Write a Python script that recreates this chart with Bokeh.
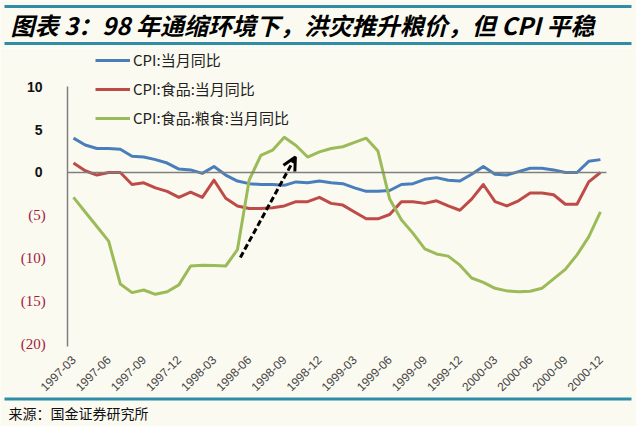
from bokeh.plotting import figure
from bokeh.models import (Legend, LegendItem, Arrow, OpenHead, FixedTicker,
                          LinearAxis, ColumnDataSource)
from bokeh.layouts import column
from bokeh.core.properties import value
from bokeh.embed import file_html
from bokeh.resources import INLINE
import math

# ---------------- data ----------------
months = []
for yr in range(1997, 2001):
    for m in range(1, 13):
        if yr == 1997 and m < 3:
            continue
        months.append(f"{yr}-{m:02d}")

cpi = [4.0, 3.2, 2.8, 2.8, 2.7, 1.9, 1.8, 1.5, 1.1, 0.4,
       0.3, -0.1, 0.7, -0.3, -1.0, -1.3, -1.4, -1.4, -1.5, -1.1, -1.2, -1.0,
       -1.2, -1.3, -1.8, -2.2, -2.2, -2.1, -1.4, -1.3, -0.8, -0.6, -0.9, -1.0,
       -0.2, 0.7, -0.2, -0.3, 0.1, 0.5, 0.5, 0.3, 0.0, 0.0, 1.3, 1.5]

food = [1.1, 0.2, -0.3, 0.0, 0.0, -1.4, -1.2, -1.8, -2.2, -2.9,
        -2.3, -2.9, -0.9, -3.0, -3.9, -4.2, -4.2, -4.1, -3.9, -3.4, -3.4, -2.9,
        -3.6, -3.8, -4.6, -5.4, -5.4, -4.9, -3.4, -3.4, -3.6, -3.3, -3.9, -4.4,
        -3.1, -1.4, -3.4, -3.9, -3.3, -2.4, -2.4, -2.6, -3.7, -3.7, -1.1, 0.0]

grain = [-2.9, -4.6, -6.3, -8.0, -13.0, -14.0, -13.7, -14.2, -13.9, -13.1,
         -10.9, -10.8, -10.85, -10.9, -9.0, -0.9, 2.0, 2.6, 4.1, 3.15, 1.8, 2.4,
         2.8, 3.0, 3.5, 4.0, 2.5, -3.1, -5.5, -7.1, -8.9, -9.5, -9.75, -10.8,
         -12.3, -12.8, -13.5, -13.8, -13.9, -13.85, -13.5, -12.4, -11.3, -9.6, -7.5, -4.6]

series_names = ["CPI:当月同比", "CPI:食品:当月同比", "CPI:食品:粮食:当月同比"]
series_colors = ["#4A7EBB", "#BE4B48", "#9BBB59"]

pos_ticks = [0, 5, 10]
pos_tick_labels = ["0", "5", "10"]
neg_ticks = [-5, -10, -15, -20]
neg_tick_labels = ["(5)", "(10)", "(15)", "(20)"]

x_tick_step = 3

# arrow annotation (start -> end in data units)
arrow_start = (14.25, -9.9)
arrow_end = (18.95, 1.8)

title_text = "图表 3：98 年通缩环境下，洪灾推升粮价，但 CPI 平稳"
source_text = "来源：国金证券研究所"

# ---------------- styling ----------------
BG = "#FBFAF1"
TEAL = "#2F8EA6"
W = 636
Y_LO, Y_HI = -26.11, 14.45
X_LO, X_HI = -6.234, 48.08
AX_X = -0.5          # where the vertical axis sits
AX_Y = -20.3         # bottom end of the vertical axis / position of the date labels
ZERO_END = 45.51

common = dict(output_backend="svg", toolbar_location=None,
              background_fill_color=BG, border_fill_color=BG,
              outline_line_color=None)

# ---------- header ----------
H_TOP = 48
top = figure(width=W, height=H_TOP, x_range=(0, W), y_range=(0, H_TOP),
             x_axis_type=None, y_axis_type=None, min_border=0, **common)
top.grid.visible = False
top.quad(left=[4, 4], right=[631, 631], bottom=[40.5, 3.5], top=[43.5, 6.5],
         fill_color=TEAL, line_color=None)
top.text(x=[10], y=[24], text=[title_text], text_font=value("Noto Sans CJK SC"),
         text_font_style="bold italic", text_font_size="24px",
         text_color="#000000", text_baseline="middle")

# ---------- main chart ----------
x = list(range(len(months)))
src = ColumnDataSource(dict(x=x, cpi=cpi, food=food, grain=grain))

p = figure(width=W, height=348, x_range=(X_LO, X_HI), y_range=(Y_LO, Y_HI),
           x_axis_type=None, y_axis_type=None, min_border=0, **common)
p.grid.visible = False

# zero line as an axis fixed at y = 0
zax = LinearAxis(ticker=FixedTicker(ticks=[]), fixed_location=0,
                 bounds=(AX_X, ZERO_END), axis_line_color="#7F7F7F", axis_line_width=1.5,
                 major_tick_line_color=None, minor_tick_line_color=None,
                 major_label_text_font_size="0px")
p.add_layout(zax, "below")

renderers = []
for col, c in zip(["cpi", "food", "grain"], series_colors):
    r = p.line("x", col, source=src, line_color=c, line_width=3, line_join="round")
    renderers.append(r)

# date axis
xa = LinearAxis(ticker=FixedTicker(ticks=x[::x_tick_step]), fixed_location=AX_Y,
                major_label_overrides={i: months[i] for i in x[::x_tick_step]})
xa.major_label_orientation = math.pi / 4
xa.axis_line_color = None
xa.major_tick_line_color = None
xa.minor_tick_line_color = None
xa.major_label_text_font = "Liberation Sans"
xa.major_label_text_font_size = "12px"
xa.major_label_text_color = "#444444"
xa.major_label_standoff = 5
p.add_layout(xa, "below")

# y axis: non-negative labels (black)
ya = LinearAxis(ticker=FixedTicker(ticks=pos_ticks), fixed_location=AX_X,
                bounds=(AX_Y, 10),
                major_label_overrides=dict(zip(pos_ticks, pos_tick_labels)))
ya.axis_line_color = "#7F7F7F"
ya.axis_line_width = 1.5
ya.major_tick_line_color = None
ya.minor_tick_line_color = None
ya.major_label_text_font = "Liberation Sans"
ya.major_label_text_font_style = "bold"
ya.major_label_text_font_size = "14px"
ya.major_label_text_color = "#111111"
ya.major_label_standoff = 19
p.add_layout(ya, "left")

# y axis: negative labels (red)
ya2 = LinearAxis(ticker=FixedTicker(ticks=neg_ticks), fixed_location=AX_X,
                 major_label_overrides=dict(zip(neg_ticks, neg_tick_labels)))
ya2.axis_line_color = None
ya2.major_tick_line_color = None
ya2.minor_tick_line_color = None
ya2.major_label_text_font = "Liberation Serif"
ya2.major_label_text_font_size = "15px"
ya2.major_label_text_color = "#A3203C"
ya2.major_label_standoff = 16
p.add_layout(ya2, "left")

# arrow
p.add_layout(Arrow(x_start=arrow_start[0], y_start=arrow_start[1],
                   x_end=arrow_end[0], y_end=arrow_end[1],
                   line_color="black", line_width=3, line_dash="6 3",
                   end=OpenHead(size=13, line_width=3, line_color="black")))

# legend
legend = Legend(items=[LegendItem(label=n, renderers=[r]) for n, r in zip(series_names, renderers)],
                location=(95, 268), orientation="vertical",
                padding=0, margin=0, spacing=8, label_height=20, glyph_height=20,
                glyph_width=35, label_standoff=3,
                background_fill_alpha=0, border_line_color=None,
                label_text_font="Noto Sans CJK SC", label_text_font_size="15px",
                label_text_color="#222222")
p.add_layout(legend, "center")

# ---------- footer ----------
H_BOT = 30
bot = figure(width=W, height=H_BOT, x_range=(0, W), y_range=(0, H_BOT),
             x_axis_type=None, y_axis_type=None, min_border=0, **common)
bot.grid.visible = False
bot.quad(left=[4], right=[631], bottom=[26], top=[29], fill_color=TEAL, line_color=None)
bot.text(x=[8], y=[14], text=[source_text], text_font=value("Noto Sans CJK SC"),
         text_font_size="14px", text_color="#111111", text_baseline="middle")

layout = column(top, p, bot, spacing=0)
open("out.html", "w").write(file_html(layout, INLINE))
